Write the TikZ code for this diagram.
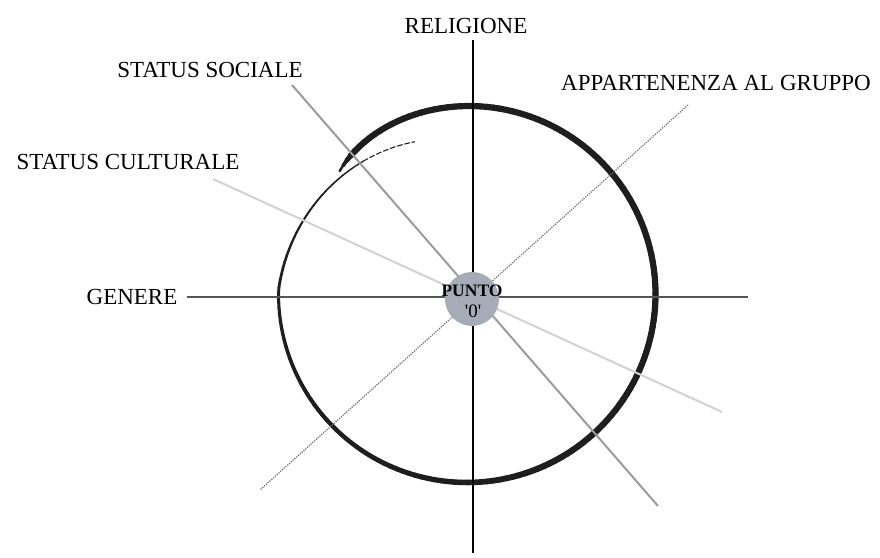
\documentclass[tikz,border=0pt]{standalone}
\usepackage{fontspec}
\setmainfont{Liberation Serif}
\definecolor{ink}{RGB}{30,30,30}
\definecolor{blob}{RGB}{165,172,184}
\definecolor{genline}{RGB}{85,85,85}
\definecolor{socline}{RGB}{155,155,155}
\definecolor{culline}{RGB}{210,210,210}
\definecolor{grpline}{RGB}{105,105,105}
\begin{document}
\begin{tikzpicture}[x=1pt,y=1pt,
  lbl/.style={font=\fontsize{23}{27}\selectfont, inner sep=0pt, text=black},
  spiralink/.style={draw=ink, line cap=round, line join=round},
  relaxis/.style={draw=black, line width=2pt},
  genaxis/.style={draw=genline, line width=2.2pt},
  socaxis/.style={draw=socline, line width=2pt},
  culaxis/.style={draw=culline, line width=2pt},
  grpaxis/.style={draw=grpline, line width=1.2pt, dash pattern=on 1.2pt off 1.2pt}]
\useasboundingbox (0,0) rectangle (880,557);
% spiral, drawn as short segments of varying width
\foreach \a in {0,2,...,366} {
  \pgfmathsetmacro\b{\a+2}
  \pgfmathsetmacro\ra{\a<=316 ? 188.5-11.5*exp(-\a/15) : 189-28*(\a-316)/71}
  \pgfmathsetmacro\rb{\b<=316 ? 188.5-11.5*exp(-\b/15) : 189-28*(\b-316)/71}
  \pgfmathsetmacro\w{\a<6 ? 2.5+\a*0.6 : (\a<200 ? 6.2 : (\a<300 ? 6.2-(\a-200)*0.027 : (\a<340 ? 3.5-(\a-300)*0.0375 : 2-(\a-340)*0.027)))}
  \pgfmathsetmacro\xa{467+\ra*cos(136-\a)}
  \pgfmathsetmacro\ya{263+\ra*sin(136-\a)}
  \pgfmathsetmacro\xb{467+\rb*cos(136-\b)}
  \pgfmathsetmacro\yb{263+\rb*sin(136-\b)}
  \draw[spiralink, line width=\w pt] (\xa,\ya) -- (\xb,\yb);
}
\draw[spiralink, line width=1.1pt, dash pattern=on 5pt off 2.5pt] plot[domain=368:387, samples=12, smooth]
  ({467+(189-28*(\x-316)/71)*cos(136-\x)}, {263+(189-28*(\x-316)/71)*sin(136-\x)});
% axis end points
\coordinate (relT) at (473,517);
\coordinate (relB) at (473,4);
\coordinate (genL) at (187,260);
\coordinate (genR) at (748,260);
\coordinate (socT) at (292,472);
\coordinate (socB) at (658,51);
\coordinate (culT) at (213,378);
\coordinate (culB) at (722,145);
\coordinate (grpT) at (688,452);
\coordinate (grpB) at (260,67);
\draw[culaxis] (culT) -- (culB);
\draw[socaxis] (socT) -- (socB);
\draw[grpaxis] (grpT) -- (grpB);
\draw[genaxis] (genL) -- (genR);
\draw[relaxis] (relT) -- (relB);
% point zero
\node[circle, fill=blob, minimum size=54pt, inner sep=0pt] (zero) at (472,258) {};
\node[font=\fontsize{17.5}{19}\selectfont\bfseries, inner sep=0pt] (punto) at (472,266) {PUNTO};
\node[font=\fontsize{19}{21}\selectfont, inner sep=0pt] (zerolbl) at (473,246) {\textquotesingle0\textquotesingle};
% labels
\node[lbl] (religione) at (466,531) {RELIGIONE};
\node[lbl] (genere) at (132,260) {GENERE};
\node[lbl] (sociale) at (210,487) {STATUS SOCIALE};
\node[lbl] (culturale) at (128,394.5) {STATUS CULTURALE};
\node[lbl] (gruppo) at (716,473.5) {APPARTENENZA AL GRUPPO};
\end{tikzpicture}
\end{document}
